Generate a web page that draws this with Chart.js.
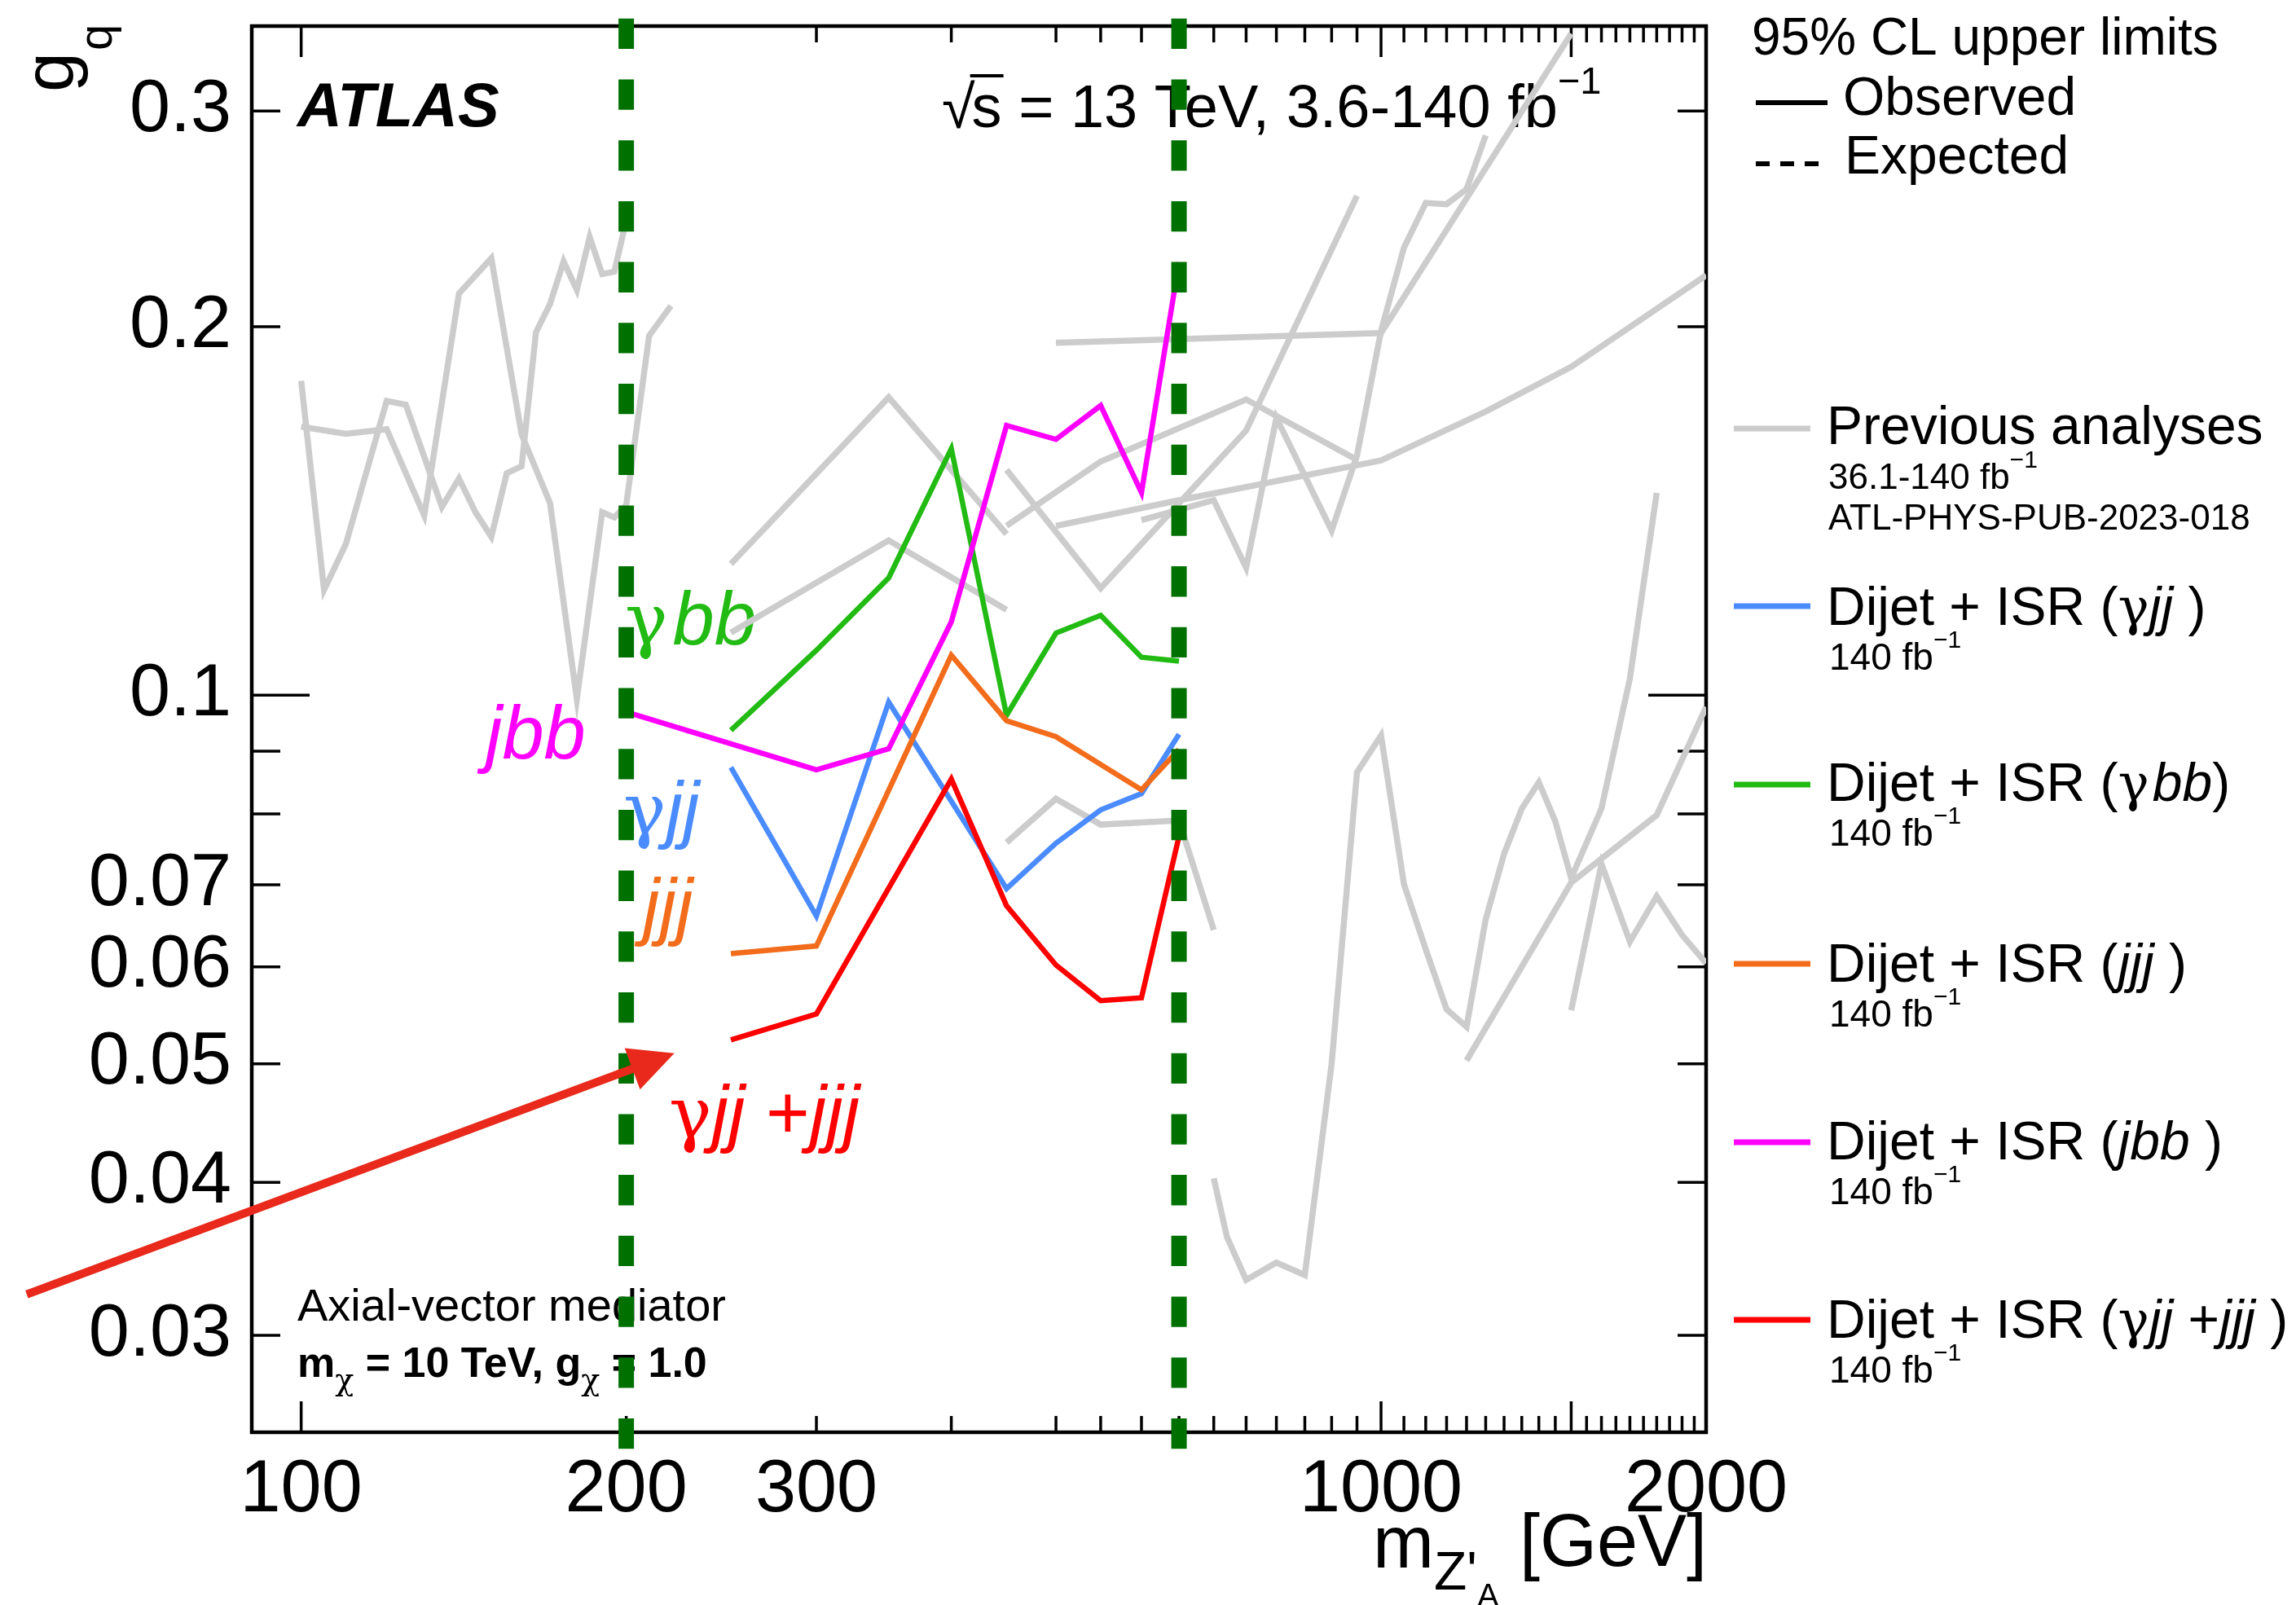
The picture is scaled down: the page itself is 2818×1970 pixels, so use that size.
<!DOCTYPE html>
<html>
<head>
<meta charset="utf-8">
<title>Dijet + ISR limits on g_q</title>
<script src="https://cdn.jsdelivr.net/npm/chart.js"></script>
<style>
html, body { margin: 0; padding: 0; background: #fff; }
canvas { display: block; }
</style>
</head>
<body>
<canvas id="limitChart" width="2818" height="1970"></canvas>
<script>
// axis ranges and ticks
const xMin = 90, xMax = 2000;
const yMin = 0.025, yMax = 0.352;
const xTickValues = [100, 200, 300, 400, 500, 550, 600, 650, 700, 750, 800, 850, 900, 950, 1000,
  1050, 1100, 1150, 1200, 1250, 1300, 1350, 1400, 1450, 1500, 1550, 1600, 1650, 1700, 1750, 1800,
  1850, 1900, 1950, 2000];
const xLongTicks = [100, 1000, 1500];
const xTickLabels = [100, 200, 300, 1000, 2000];
const yTickValues = [0.03, 0.04, 0.05, 0.06, 0.07, 0.08, 0.09, 0.1, 0.2, 0.3];
const yLongTicks = [0.1];
const yTickLabels = [0.03, 0.04, 0.05, 0.06, 0.07, 0.1, 0.2, 0.3];

// this analysis, observed limits
const gammaJJMass = [250, 300, 350, 450, 500, 550, 600, 650];
const gammaJJLimit = [0.0873, 0.066, 0.0987, 0.0695, 0.0757, 0.0806, 0.0831, 0.0929];
const gammaBBMass = [250, 300, 350, 400, 450, 500, 550, 600, 650];
const gammaBBLimit = [0.0936, 0.1088, 0.1247, 0.159, 0.0963, 0.1124, 0.1162, 0.1074, 0.1066];
const jjjMass = [250, 300, 400, 450, 500, 600, 650];
const jjjLimit = [0.0615, 0.0624, 0.1078, 0.0953, 0.0925, 0.0837, 0.0903];
const jbbMass = [200, 300, 350, 400, 450, 500, 550, 600, 650];
const jbbLimit = [0.0969, 0.0869, 0.0904, 0.1148, 0.1661, 0.1618, 0.1724, 0.1464, 0.2257];
const combMass = [250, 300, 400, 450, 500, 550, 600, 650];
const combLimit = [0.0523, 0.0549, 0.0854, 0.0673, 0.0602, 0.0563, 0.0566, 0.0767];

// previous analyses (grey)
const prevA_Mass = [100, 105, 110, 120, 125, 135, 140, 145, 150, 155, 160, 165, 170, 175, 180, 185, 190, 195, 200];
const prevA_Limit = [0.1806, 0.1219, 0.1329, 0.1739, 0.1727, 0.1425, 0.1503, 0.1411, 0.1347, 0.1518,
  0.1538, 0.198, 0.2087, 0.2261, 0.2143, 0.2367, 0.2208, 0.2218, 0.2443];
const prevB_Mass = [100, 110, 120, 130, 140, 150, 160, 170, 180, 190, 195, 200, 210, 220];
const prevB_Limit = [0.1657, 0.1635, 0.1649, 0.1402, 0.2129, 0.2275, 0.1633, 0.1435, 0.0993, 0.1411,
  0.1397, 0.143, 0.1966, 0.208];
const prevC_Mass = [250, 350, 450];
const prevC_Limit = [0.128, 0.1751, 0.1354];
const prevD_Mass = [250, 350, 450];
const prevD_Limit = [0.1125, 0.1338, 0.1174];
const prevE_Mass = [450, 550, 750, 950];
const prevE_Limit = [0.1375, 0.1552, 0.1744, 0.1557];
const prevF_Mass = [450, 550, 750, 950];
const prevF_Limit = [0.1528, 0.1223, 0.1645, 0.2558];
const prevG_Mass = [500, 650, 1000, 1250, 1500, 2000];
const prevG_Limit = [0.1375, 0.1443, 0.1555, 0.1705, 0.1854, 0.2203];
const prevH_Mass = [500, 1000, 1500];
const prevH_Limit = [0.194, 0.1976, 0.347];
const prevI_Mass = [600, 700, 750, 800, 900, 950, 1000, 1050, 1100, 1150, 1200, 1250];
const prevI_Limit = [0.139, 0.1443, 0.1271, 0.1685, 0.1363, 0.1569, 0.1984, 0.232, 0.2524, 0.2518, 0.259, 0.2866];
const prevJ_Mass = [450, 500, 550, 650, 700];
const prevJ_Limit = [0.0758, 0.0823, 0.0784, 0.079, 0.0643];
const prevK_Mass = [700, 720, 750, 800, 850, 900, 950, 1000, 1050, 1100, 1150, 1200, 1250, 1300,
  1350, 1400, 1450, 1500, 1600, 1700, 1800];
const prevK_Limit = [0.0403, 0.0361, 0.0333, 0.0344, 0.0336, 0.05, 0.0865, 0.0927, 0.0701, 0.062,
  0.0554, 0.0536, 0.0656, 0.0742, 0.0808, 0.0849, 0.0789, 0.0709, 0.0808, 0.1032, 0.1463];
const prevL_Mass = [1200, 1350, 1500, 1800, 2000];
const prevL_Limit = [0.0503, 0.06, 0.0703, 0.0798, 0.0978];
const prevM_Mass = [1500, 1600, 1700, 1800, 1900, 2000];
const prevM_Limit = [0.0553, 0.0728, 0.0629, 0.0685, 0.0637, 0.0604];

// search window edges (dashed green) and the arrow annotation
const windowEdges = [200, 650];
const windowSpan = [0.357, 0.0242];
const arrowFrom = {x: 55.7, y: 0.0324};
const arrowTo = {x: 221.6, y: 0.051};

const FONT = "'Liberation Sans', Arial, Helvetica, sans-serif";
const GREEK = "'DejaVu Serif', 'Liberation Serif', serif";
const GREY = '#cccccc';
const BLUE = '#4a8cff';
const GREEN = '#22bb14';
const ORANGE = '#f26c1c';
const MAGENTA = '#ff00ff';
const RED = '#ff0000';

function toPoints(mass, limit) {
  return mass.map((m, i) => ({x: m, y: limit[i]}));
}

function font(size, style, family) {
  return (style ? style + ' ' : '') + size + 'px ' + (family || FONT);
}

// draw a row of text pieces, each with its own font / offset
function drawRuns(ctx, x, y, runs, color) {
  let cx = x;
  runs.forEach(r => {
    ctx.font = font(r.size, r.style, r.greek ? GREEK : FONT);
    ctx.fillStyle = r.color || color || '#000';
    ctx.fillText(r.text, cx, y + (r.dy || 0));
    cx += ctx.measureText(r.text).width + (r.gap || 0);
  });
  return cx;
}

const greyData = [
  [prevA_Mass, prevA_Limit], [prevB_Mass, prevB_Limit], [prevC_Mass, prevC_Limit],
  [prevD_Mass, prevD_Limit], [prevE_Mass, prevE_Limit], [prevF_Mass, prevF_Limit],
  [prevG_Mass, prevG_Limit], [prevH_Mass, prevH_Limit], [prevI_Mass, prevI_Limit],
  [prevJ_Mass, prevJ_Limit], [prevK_Mass, prevK_Limit], [prevL_Mass, prevL_Limit],
  [prevM_Mass, prevM_Limit]
];

let datasets = [];
greyData.forEach((d, i) => {
  datasets.push({
    label: 'Previous analyses ' + i,
    data: toPoints(d[0], d[1]),
    borderColor: GREY,
    borderWidth: 7.5,
    order: 10
  });
});

const colored = [
  ['Dijet + ISR (γjj)', gammaJJMass, gammaJJLimit, BLUE],
  ['Dijet + ISR (γbb)', gammaBBMass, gammaBBLimit, GREEN],
  ['Dijet + ISR (jjj)', jjjMass, jjjLimit, ORANGE],
  ['Dijet + ISR (jbb)', jbbMass, jbbLimit, MAGENTA],
  ['Dijet + ISR (γjj+jjj)', combMass, combLimit, RED]
];
colored.forEach((c, i) => {
  datasets.push({
    label: c[0],
    data: toPoints(c[1], c[2]),
    borderColor: c[3],
    borderWidth: 6.5,
    order: 5 - i
  });
});

windowEdges.forEach(m => {
  datasets.push({
    label: 'window ' + m,
    data: windowSpan.map(g => ({x: m, y: g})),
    borderColor: '#007000',
    borderWidth: 19,
    borderDash: [37.3, 37.4],
    borderCapStyle: 'butt',
    clip: false,
    order: 0
  });
});

const atlasFrame = {
  id: 'atlasFrame',
  beforeDatasetsDraw(chart) {
    const {ctx, chartArea: a, scales: {x, y}} = chart;
    ctx.save();
    ctx.strokeStyle = '#000';
    ctx.lineWidth = 4.5;
    ctx.strokeRect(a.left, a.top, a.right - a.left, a.bottom - a.top);

    // ticks point inwards, mirrored on opposite side
    ctx.lineWidth = 3.5;
    xTickValues.forEach(v => {
      const px = x.getPixelForValue(v);
      const len = xLongTicks.includes(v) ? 38 : 20;
      ctx.beginPath();
      ctx.moveTo(px, a.bottom); ctx.lineTo(px, a.bottom - len);
      ctx.moveTo(px, a.top); ctx.lineTo(px, a.top + len);
      ctx.stroke();
    });
    yTickValues.forEach(v => {
      const py = y.getPixelForValue(v);
      const len = yLongTicks.includes(v) ? 71 : 35;
      ctx.beginPath();
      ctx.moveTo(a.left, py); ctx.lineTo(a.left + len, py);
      ctx.moveTo(a.right, py); ctx.lineTo(a.right - len, py);
      ctx.stroke();
    });

    ctx.fillStyle = '#000';
    ctx.font = font(90);
    ctx.textAlign = 'center';
    ctx.textBaseline = 'alphabetic';
    xTickLabels.forEach(v => ctx.fillText(String(v), x.getPixelForValue(v), 1855));
    ctx.textAlign = 'right';
    ctx.textBaseline = 'middle';
    yTickLabels.forEach(v => ctx.fillText(String(v), a.left - 25, y.getPixelForValue(v)));

    ctx.textAlign = 'left';
    ctx.textBaseline = 'alphabetic';

    // axis titles
    drawRuns(ctx, 1685, 1924, [
      {text: 'm', size: 90},
      {text: "Z'", size: 66, dy: 27},
      {text: 'A', size: 40, dy: 48}
    ]);
    ctx.fillStyle = '#000';
    ctx.textAlign = 'right';
    ctx.font = font(90);
    ctx.fillText('[GeV]', a.right + 1, 1922);
    ctx.textAlign = 'left';

    ctx.save();
    ctx.translate(90, 113);
    ctx.rotate(-Math.PI / 2);
    ctx.font = font(88);
    ctx.fillText('g', 0, 0);
    ctx.font = font(58);
    ctx.fillText('q', 51, 47);
    ctx.restore();

    // labels inside the frame
    ctx.fillStyle = '#000';
    ctx.font = font(76, 'italic bold');
    ctx.fillText('ATLAS', 365, 155);

    let cx = 1156;
    ctx.font = font(74);
    ctx.fillText('√', cx, 157);
    cx += ctx.measureText('√').width - 4;
    const sW = ctx.measureText('s').width;
    ctx.fillText('s', cx, 156);
    ctx.fillRect(cx - 2, 91, sW + 4, 4);
    cx += sW;
    drawRuns(ctx, cx, 156, [
      {text: ' = 13 TeV, 3.6-140 fb', size: 74},
      {text: '−1', size: 47, dy: -41}
    ]);

    ctx.fillStyle = '#000';
    ctx.font = font(56);
    ctx.fillText('Axial-vector mediator', 365, 1621);
    drawRuns(ctx, 365, 1690, [
      {text: 'm', size: 52, style: 'bold'},
      {text: 'χ', size: 38, dy: 16, greek: true},
      {text: ' = 10 TeV, g', size: 52, style: 'bold'},
      {text: 'χ', size: 38, dy: 16, greek: true},
      {text: ' = 1.0', size: 52, style: 'bold'}
    ]);

    drawRuns(ctx, 767, 791, [
      {text: 'γ', size: 88, greek: true, gap: 6}, {text: 'bb', size: 92, style: 'italic'}], GREEN);
    drawRuns(ctx, 596, 931, [{text: 'jbb', size: 92, style: 'italic'}], MAGENTA);
    drawRuns(ctx, 765, 1024, [
      {text: 'γ', size: 88, greek: true}, {text: 'jj', size: 92, style: 'italic'}], BLUE);
    drawRuns(ctx, 789, 1143, [{text: 'jjj', size: 92, style: 'italic'}], ORANGE);
    drawRuns(ctx, 821, 1397, [
      {text: 'γ', size: 88, greek: true}, {text: 'jj', size: 92, style: 'italic'},
      {text: ' +', size: 92}, {text: 'jjj', size: 92, style: 'italic'}], RED);

    // legend
    ctx.fillStyle = '#000';
    ctx.font = font(64);
    ctx.fillText('95% CL upper limits', 2150, 67);
    ctx.lineWidth = 6;
    ctx.strokeStyle = '#000';
    ctx.beginPath(); ctx.moveTo(2155, 126); ctx.lineTo(2243, 126); ctx.stroke();
    ctx.setLineDash([17, 13]);
    ctx.beginPath(); ctx.moveTo(2155, 201); ctx.lineTo(2232, 201); ctx.stroke();
    ctx.setLineDash([]);
    ctx.font = font(66);
    ctx.fillText('Observed', 2262, 141);
    ctx.fillText('Expected', 2264, 213);

    const entries = [
      {color: GREY, lineY: 526, base: 545, runs: [{text: 'Previous analyses', size: 66}]},
      {color: BLUE, lineY: 744, base: 767, runs: [{text: 'Dijet + ISR (', size: 66},
        {text: 'γ', size: 64, greek: true},
        {text: 'jj', size: 66, style: 'italic'}, {text: ' )', size: 66}]},
      {color: GREEN, lineY: 963, base: 983, runs: [{text: 'Dijet + ISR (', size: 66},
        {text: 'γ', size: 64, greek: true, gap: 4},
        {text: 'bb', size: 66, style: 'italic'}, {text: ')', size: 66}]},
      {color: ORANGE, lineY: 1183, base: 1205, runs: [{text: 'Dijet + ISR (', size: 66},
        {text: 'jjj', size: 66, style: 'italic'}, {text: ' )', size: 66}]},
      {color: MAGENTA, lineY: 1402, base: 1423, runs: [{text: 'Dijet + ISR (', size: 66},
        {text: 'jbb', size: 66, style: 'italic'}, {text: ' )', size: 66}]},
      {color: RED, lineY: 1620, base: 1642, runs: [{text: 'Dijet + ISR (', size: 66},
        {text: 'γ', size: 64, greek: true},
        {text: 'jj', size: 66, style: 'italic'}, {text: ' +', size: 66},
        {text: 'jjj', size: 66, style: 'italic'}, {text: ' )', size: 66}]}
    ];
    ctx.lineWidth = 7;
    entries.forEach((e, i) => {
      ctx.strokeStyle = e.color;
      ctx.beginPath(); ctx.moveTo(2128, e.lineY); ctx.lineTo(2222, e.lineY); ctx.stroke();
      drawRuns(ctx, 2242, e.base, e.runs);
      if (i === 0) {
        drawRuns(ctx, 2244, 600, [{text: '36.1-140 fb', size: 44}, {text: '−1', size: 30, dy: -26}]);
        ctx.fillStyle = '#000';
        ctx.font = font(44);
        ctx.fillText('ATL-PHYS-PUB-2023-018', 2244, 650);
      } else {
        drawRuns(ctx, 2245, e.base + 55, [{text: '140 fb', size: 46}, {text: '−1', size: 30, dy: -27}]);
      }
    });
    ctx.restore();
  },
  afterDatasetsDraw(chart) {
    const {ctx, scales: {x, y}} = chart;
    const x0 = x.getPixelForValue(arrowFrom.x), y0 = y.getPixelForValue(arrowFrom.y);
    const x1 = x.getPixelForValue(arrowTo.x), y1 = y.getPixelForValue(arrowTo.y);
    const ang = Math.atan2(y1 - y0, x1 - x0);
    const headLen = 55, headHalf = 27;
    const bx = x1 - headLen * Math.cos(ang), by = y1 - headLen * Math.sin(ang);
    ctx.save();
    ctx.strokeStyle = '#e8291c';
    ctx.fillStyle = '#e8291c';
    ctx.lineWidth = 10;
    ctx.beginPath(); ctx.moveTo(x0, y0); ctx.lineTo(bx + 4 * Math.cos(ang), by + 4 * Math.sin(ang)); ctx.stroke();
    ctx.beginPath();
    ctx.moveTo(x1, y1);
    ctx.lineTo(bx + headHalf * Math.sin(ang), by - headHalf * Math.cos(ang));
    ctx.lineTo(bx - headHalf * Math.sin(ang), by + headHalf * Math.cos(ang));
    ctx.closePath();
    ctx.fill();
    ctx.restore();
  }
};

const chartElement = document.getElementById('limitChart').getContext('2d');

const limitChart = new Chart(chartElement, {
  type: 'line',
  data: {datasets: datasets},
  options: {
    responsive: false,
    animation: false,
    layout: {padding: {left: 309, right: 724, top: 32, bottom: 212}},
    elements: {
      point: {radius: 0, hoverRadius: 0},
      line: {tension: 0, borderJoinStyle: 'miter', fill: false}
    },
    plugins: {legend: {display: false}, tooltip: {enabled: false}},
    scales: {
      x: {type: 'logarithmic', min: xMin, max: xMax, display: false},
      y: {type: 'logarithmic', min: yMin, max: yMax, display: false}
    }
  },
  plugins: [atlasFrame]
});
</script>
</body>
</html>
